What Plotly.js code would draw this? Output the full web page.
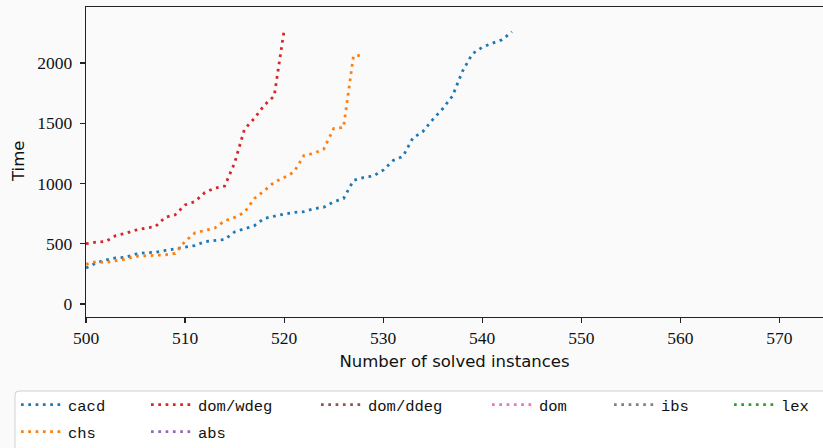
<!DOCTYPE html>
<html>
<head>
<meta charset="utf-8">
<script src="https://cdn.plot.ly/plotly-3.0.1.min.js"></script>
<style>
  html, body { margin: 0; padding: 0; background: #fafafa; }
  #chart { width: 823px; height: 448px; }
</style>
</head>
<body>
<div id="chart"></div>
<script>
// Cumulative solving time (s) against the number of solved instances.
const cacdX = [500,501,502,503,504,505,506,507,508,509,510,511,512,513,514,515,516,517,518,519,520,521,
               522,523,524,525,526,527,528,529,530,531,532,533,534,535,536,537,538,539,540,541,542,543];
const cacdY = [298,340,365,382,387,414,425,429,444,457,470,485,517,523,535,598,627,650,710,730,746,759,
               766,790,803,848,875,1025,1049,1062,1110,1190,1225,1378,1430,1530,1620,1726,1930,2075,2130,2163,2192,2258];

const chsX = [500,501,502,503,504,505,506,507,508,509,510,511,512,513,514,
              515,516,517,518,519,520,521,522,523,524,525,526,527,528];
const chsY = [330,350,345,358,372,395,398,401,408,420,520,590,612,630,690,
              718,760,875,940,1010,1050,1095,1232,1250,1285,1455,1465,2058,2066];

const domWdegX = [500,501,502,503,504,505,506,507,508,509,510,511,512,513,514,515,516,517,518,519,520];
const domWdegY = [500,513,519,567,587,612,630,641,720,740,822,850,925,962,978,1170,1450,1540,1650,1725,2270];

// Heuristics that solved none of the instances in this window.
const absX = [], absY = [];
const domDdegX = [], domDdegY = [];
const domX = [], domY = [];
const ibsX = [], ibsY = [];
const lexX = [], lexY = [];

const seriesNames  = ['cacd', 'chs', 'dom/wdeg', 'abs', 'dom/ddeg', 'dom', 'ibs', 'lex'];
const seriesX      = [cacdX, chsX, domWdegX, absX, domDdegX, domX, ibsX, lexX];
const seriesY      = [cacdY, chsY, domWdegY, absY, domDdegY, domY, ibsY, lexY];
const seriesColors = ['#1f77b4', '#ff7f0e', '#d62728', '#9467bd', '#8c564b', '#e377c2', '#7f7f7f', '#2ca02c'];

// Legend grid: 6 columns, filled column by column (two rows).
const colLeft = [16, 146, 316, 487, 609, 729];   // px from left of figure
const rowMid  = [405, 432];                      // px from top of figure
const W = 823, H = 448;
const M = { l: 86, r: 0, t: 7, b: 131, autoexpand: false };

// an empty series still needs one (blank) point to keep its legend entry
const orBlank = a => (a.length ? a : [null]);

const traces = seriesNames.map((name, i) => ({
  type: 'scatter',
  mode: 'lines',
  name: name,
  x: orBlank(seriesX[i]),
  y: orBlank(seriesY[i]),
  line: { color: seriesColors[i], width: 2.8, dash: '2.7px,4.6px' },
  legend: i === 0 ? 'legend' : 'legend' + (i + 1),
  showlegend: true,
  hoverinfo: 'skip'
}));

const legendFont = { family: '"Liberation Mono", "DejaVu Sans Mono", monospace', size: 15.5, color: '#111' };
const tickFont = { family: '"Liberation Serif", "DejaVu Serif", serif', size: 17.5, color: '#111' };
const titleFont = { family: '"DejaVu Sans", sans-serif', size: 16.5, color: '#111' };

const layout = {
  width: W, height: H,
  margin: M,
  paper_bgcolor: '#fafafa',
  plot_bgcolor: '#fafafa',
  showlegend: true,
  xaxis: {
    range: [500, 574.4],
    tickvals: [500, 510, 520, 530, 540, 550, 560, 570],
    ticks: 'outside', ticklen: 5, tickwidth: 1.2, tickcolor: '#222',
    showline: true, linecolor: '#222', linewidth: 1.3, mirror: true,
    showgrid: false, zeroline: false,
    tickfont: tickFont,
    title: { text: 'Number of solved instances', standoff: 8, font: titleFont }
  },
  yaxis: {
    range: [-108, 2464],
    tickvals: [0, 500, 1000, 1500, 2000],
    ticks: 'outside', ticklen: 5, tickwidth: 1.2, tickcolor: '#222',
    ticklabelstandoff: 4,
    showline: true, linecolor: '#222', linewidth: 1.3,
    showgrid: false, zeroline: false,
    tickfont: tickFont
  },
  annotations: [{
    // y-axis title
    text: 'Time', textangle: -90, showarrow: false,
    xref: 'paper', yref: 'paper', x: -(86 - 18) / (W - 86), y: (H - 131 - 162) / (H - 131 - 7),
    xanchor: 'center', yanchor: 'middle',
    font: titleFont
  }],
  shapes: [{
    // rounded frame behind the legend columns
    type: 'path', xref: 'paper', yref: 'paper', layer: 'below',
    path: (() => {
      const px = v => (v - M.l) / (W - M.l - M.r);
      const py = v => (H - M.b - v) / (H - M.b - M.t);
      const L = 15, T = 391, R = 840, B = 470, r = 4;
      return `M${px(L + r)},${py(T)} L${px(R)},${py(T)} L${px(R)},${py(B)} L${px(L)},${py(B)} ` +
             `L${px(L)},${py(T + r)} Q${px(L)},${py(T)} ${px(L + r)},${py(T)} Z`;
    })(),
    line: { color: '#cfcfcf', width: 1 },
    fillcolor: '#ffffff'
  }]
};

// one small legend per entry so columns can have their own widths
seriesNames.forEach((name, i) => {
  const col = [0, 0, 1, 1, 2, 3, 4, 5][i];
  const row = [0, 1, 0, 1, 0, 0, 0, 0][i];
  const key = i === 0 ? 'legend' : 'legend' + (i + 1);
  layout[key] = {
    xref: 'container', yref: 'container',
    x: colLeft[col] / W, y: 1 - rowMid[row] / H,
    xanchor: 'left', yanchor: 'middle',
    bgcolor: 'rgba(0,0,0,0)', borderwidth: 0,
    itemwidth: 42,
    font: legendFont
  };
});

Plotly.newPlot('chart', traces, layout, { displayModeBar: false, staticPlot: true });
</script>
</body>
</html>
